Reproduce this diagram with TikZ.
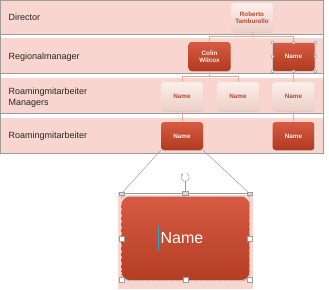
\documentclass[tikz,border=0pt]{standalone}
\usepackage{fontspec}
\setmainfont{Liberation Sans}
\usetikzlibrary{arrows.meta, positioning, shadows}
\usepackage{xcolor}

\definecolor{rosa}{HTML}{F8D5CF}
\definecolor{vermelhoclaro}{HTML}{D65B42}
\definecolor{vermelhoescuro}{HTML}{B03A1F}
\definecolor{pele}{HTML}{FCEFEA}
\definecolor{peleescura}{HTML}{ECCFC7}
\definecolor{textoclaro}{HTML}{B44A33}
\definecolor{textobranco}{HTML}{FDEDE8}
\definecolor{salmao}{HTML}{E9AA9B}
\definecolor{cinza}{HTML}{9C9C9C}
\definecolor{cursor}{HTML}{2AA7C9}

\begin{document}
\begin{tikzpicture}[
    x=1pt,
    y=-1pt,
    every node/.style={font=\fontsize{9}{11}\selectfont},
    borda/.style={
        draw=cinza,
        line width=0.7pt
    },
    rotulo/.style={
        anchor=west,
        align=left,
        text=black!85
    },
    caixa/.style={
        minimum width=42pt,
        minimum height=29pt,
        rounded corners=3pt,
        align=center,
        inner sep=1pt,
        font=\fontsize{6.3}{7.3}\selectfont\bfseries
    },
    escuro/.style={
        caixa,
        top color=vermelhoclaro,
        bottom color=vermelhoescuro,
        text=textobranco,
        drop shadow={opacity=0.25, shadow xshift=0.4pt, shadow yshift=-0.8pt}
    },
    claro/.style={
        caixa,
        top color=pele,
        bottom color=peleescura,
        text=textoclaro,
        drop shadow={opacity=0.15, shadow xshift=0.4pt, shadow yshift=-0.8pt}
    },
    linha/.style={
        draw=salmao,
        line width=0.6pt
    },
    guia/.style={
        draw=cinza,
        line width=0.5pt
    },
    alca/.style={
        draw=cinza,
        fill=white,
        line width=0.4pt,
        minimum size=5pt,
        inner sep=0pt
    },
    alcap/.style={
        alca,
        draw=black!30,
        minimum size=2pt,
        line width=0.3pt
    }
]

\useasboundingbox (0,0) rectangle (329,289);

% ============================================================
% FAIXAS
% ============================================================

\fill[rosa] (0,0) rectangle (323,34);
\fill[rosa] (0,38) rectangle (323,73);
\fill[rosa] (0,77.5) rectangle (323,113.5);
\fill[rosa] (0,117.5) rectangle (323,153);

\draw[borda] (0,34) -- (323,34);
\draw[borda] (0,73) -- (323,73);
\draw[borda] (0,113.5) -- (323,113.5);
\draw[borda] (0.5,0.5) rectangle (323,153);

\node[rotulo] (director) at (5,17) {Director};
\node[rotulo] (regional) at (5,57) {Regionalmanager};
\node[rotulo] (managers) at (5,97.5) {Roamingmitarbeiter\\Managers};
\node[rotulo] (mitarbeiter) at (5,136) {Roamingmitarbeiter};

% ============================================================
% ORGANOGRAMA
% ============================================================

\node[claro] (roberto) at (252,17.5) {Roberto\\Tamburello};

\node[escuro] (colin) at (209.5,56.5) {Colin\\Wilcox};
\node[escuro] (regname) at (293.5,56.5) {Name};

\node[claro] (mgra) at (182,96.5) {Name};
\node[claro] (mgrb) at (238,96.5) {Name};
\node[claro] (mgrc) at (293.5,96.5) {Name};

\node[escuro, minimum height=28pt] (rma) at (182,136) {Name};
\node[escuro, minimum height=28pt] (rmb) at (293.5,136) {Name};

% Conectores
\draw[linha] (roberto.south) -- ++(0,4) -| (colin.north);
\draw[linha] (roberto.south) -- ++(0,4) -| (regname.north);
\draw[linha] (colin.south) -- ++(0,5) -| (mgra.north);
\draw[linha] (colin.south) -- ++(0,5) -| (mgrb.north);
\draw[linha] (regname.south) -- (mgrc.north);
\draw[linha] (mgra.south) -- (rma.north);
\draw[linha] (mgrc.south) -- (rmb.north);

% Selecao
\draw[draw=black!20, line width=0.3pt] (regname.north west) rectangle (regname.south east);
\foreach \a in {north west, north, north east, east, south east, south, south west, west}
    \node[alcap] at (regname.\a) {};

% ============================================================
% AMPLIACAO
% ============================================================

\fill[rosa] (117.5,195) rectangle (252.5,289);

\node[
    minimum width=127.6pt,
    minimum height=83.3pt,
    rounded corners=8pt,
    top color=vermelhoclaro,
    bottom color=vermelhoescuro!90!vermelhoclaro,
    drop shadow={opacity=0.3, shadow xshift=0.6pt, shadow yshift=-1.2pt}
] (grande) at (185.5,238.3) {};

\draw[draw=cinza!70, dashed, line width=0.3pt]
(grande.north west) rectangle (grande.south east);

\node[
    inner sep=0pt,
    text=white,
    font=\fontsize{16}{18}\selectfont
] (texto) at (182,238.3) {Name};

\draw[draw=cursor, line width=0.8pt]
([xshift=-1.8pt, yshift=12.5pt]texto.west) --
([xshift=-1.8pt, yshift=-12.5pt]texto.west);

\coordinate (hnw) at (121.7,193.3);
\coordinate (hn) at (185.3,193.3);
\coordinate (hne) at (249.3,193.3);
\coordinate (giro) at (185.3,177.3);

\draw[guia] (rma.south west) -- (hnw);
\draw[guia] (rma.south east) -- (hne);
\draw[guia] (118,193.3) -- (252.5,193.3);

% Alcas
\node[alca, minimum width=5pt, minimum height=3pt, fill=black!15] at (hnw) {};
\node[alca, minimum width=5pt, minimum height=3pt, fill=black!15] at (hne) {};
\node[alca, minimum width=6pt, minimum height=3.5pt, fill=black!15] (topo) at (hn) {};
\node[alca] at (grande.west) {};
\node[alca] at (grande.east) {};
\node[alca] at (grande.south west) {};
\node[alca] at (grande.south) {};
\node[alca] at (grande.south east) {};

% Giro
\draw[guia] (topo.north) -- ([yshift=-4pt]giro);
\draw[guia, -{Stealth[length=2.2pt, width=2.4pt]}]
([shift={(70:4pt)}]giro) arc[start angle=70, end angle=-240, radius=4pt];

\end{tikzpicture}
\end{document}
